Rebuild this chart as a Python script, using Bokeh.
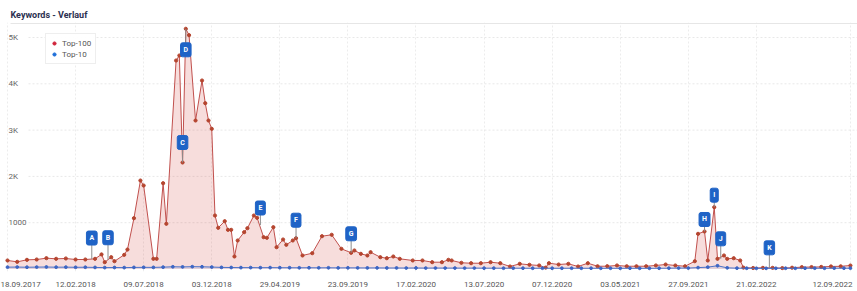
import pandas as pd
from bokeh.plotting import figure
from bokeh.models import (Range1d, FixedTicker, DatetimeTickFormatter, Label,
                          Legend, LegendItem)
from bokeh.embed import file_html
from bokeh.resources import INLINE

# ---------------- data ----------------
START = pd.Timestamp("2017-09-18")

# Top-100 keywords (weeks since 18.09.2017, value)
red_weeks = [0, 3, 6, 9, 12, 15, 18, 21, 24, 27, 29, 30, 32, 33, 36, 37, 39, 41, 42, 45,
             46, 48, 49, 52, 53, 54, 55, 56, 58, 60, 61, 62, 63, 64, 65, 67, 68, 69, 70, 71,
             73, 74, 76, 77, 79, 80, 82, 83, 85, 86, 88, 89, 91, 94, 97, 100, 103, 106, 107, 109,
             111, 112, 115, 117, 119, 121, 125, 128, 131, 134, 136, 137, 140, 143, 146, 149, 152, 155, 158, 161,
             164, 166, 167, 170, 173, 176, 179, 182, 185, 188, 191, 194, 197, 200, 203, 206, 209, 212, 213, 215,
             216, 218, 219, 221, 222, 224, 226, 227, 230, 233, 236, 239, 242, 245, 248, 251, 254, 257, 260]
red_values = [184, 155, 198, 205, 234, 220, 227, 205, 205, 220, 315, 147, 255, 168, 306, 420, 1097, 1911, 1803, 220,
              220, 1853, 976, 4503, 4611, 2300, 5188, 5050, 3207, 4071, 3581, 3207, 3028, 1155, 890, 1032, 846, 846, 270, 616,
              795, 881, 1155, 1105, 687, 674, 903, 471, 637, 523, 616, 665, 292, 341, 708, 739, 436, 350, 400, 328,
              292, 363, 255, 233, 270, 220, 184, 184, 147, 147, 198, 184, 134, 125, 125, 147, 125, 54, 112, 91,
              76, 30, 125, 97, 112, 54, 125, 60, 60, 76, 60, 60, 60, 76, 97, 76, 60, 168, 760, 810,
              184, 1335, 220, 292, 220, 233, 184, 30, 22, 25, 25, 20, 28, 40, 42, 45, 55, 58, 75]

# Top-10 keywords (every third week, last point 12.09.2022)
blue_weeks = list(range(0, 259, 3)) + [260]
blue_values = [40, 42, 38, 41, 43, 39, 40, 37, 38, 34,
               30, 32, 30, 34, 36, 35, 40, 48, 45, 50,
               48, 42, 35, 32, 30, 30, 28, 30, 28, 27,
               26, 27, 25, 26, 24, 25, 24, 23, 24, 22,
               22, 21, 22, 20, 21, 20, 20, 19, 20, 18,
               18, 17, 18, 17, 16, 17, 16, 16, 17, 16,
               16, 15, 16, 15, 16, 15, 15, 16, 18, 20,
               20, 30, 40, 70, 25,
               18, 16, 15, 14, 15, 16, 15, 16, 17, 16, 18, 17, 18]

tick_dates = ["2018-02-12", "2018-07-09", "2018-12-03", "2019-04-29", "2019-09-23",
              "2020-02-17", "2020-07-13", "2020-12-07", "2021-05-03", "2021-09-27", "2022-02-21"]
first_date = "2017-09-18"
last_date = "2022-09-12"
first_label = "18.09.2017"
last_label = "12.09.2022"

y_ticks = [1000, 2000, 3000, 4000, 5000]
y_tick_labels = ["1000", "2K", "3K", "4K", "5K"]

flag_letters = ["A", "B", "C", "D", "E", "F", "G", "H", "I", "J", "K"]
flag_weeks = [26, 31, 54, 55, 78, 89, 106, 215, 218, 220, 235]
flag_point_values = [215, 200, 2300, 5188, 950, 665, 350, 810, 1335, 220, 25]

# ---------------- layout / style ----------------
W, H = 857, 291
PX0 = 7.0        # screen x of first week
PXW = 3.242      # px per week
Y0 = 268.5       # screen y of value 0
PXK = 46.3       # px per 1000
FRAME_TOP, FRAME_BOTTOM = 22, 271
flag_offsets_px = [21, 22, 20, -21, 17, 18, 19, 12, 12, 20, 20]
FIRST_LABEL_PX = 0.5     # edge labels are shifted like Highcharts does
LAST_LABEL_PX = 832

def wk(w):
    return START + pd.Timedelta(days=7 * w)

def px_x(px):
    return wk((px - PX0) / PXW)

def px_y_delta(px):
    return px * 1000.0 / PXK

def ms(ts):
    return int(round(ts.value / 1e6))

x_range = Range1d(px_x(0), px_x(W))
y_range = Range1d(-(FRAME_BOTTOM - Y0) * 1000 / PXK, (Y0 - FRAME_TOP) * 1000 / PXK)

p = figure(width=W, height=H, x_axis_type="datetime", y_axis_location=None,
           x_range=x_range, y_range=y_range, toolbar_location=None,
           output_backend="svg", min_border_left=0, min_border_right=0,
           min_border_top=FRAME_TOP, min_border_bottom=H - FRAME_BOTTOM)
p.outline_line_color = None
p.background_fill_color = "white"
p.border_fill_color = "white"

FONT = "Roboto"
p.title.text = "Keywords - Verlauf"
p.title.text_font = FONT
p.title.text_font_size = "9px"
p.title.text_font_style = "bold"
p.title.text_color = "#2b3050"
p.title.align = "left"
p.title.offset = 10
p.title.standoff = 5

# grid
all_ticks = [pd.Timestamp(first_date)] + [pd.Timestamp(d) for d in tick_dates] + [pd.Timestamp(last_date)]
p.xgrid.ticker = FixedTicker(ticks=[ms(t) for t in all_ticks])
p.xgrid.grid_line_color = "#ececec"
p.xgrid.grid_line_dash = "2 2"
p.ygrid.visible = False

hx0 = [px_x(28)] * len(y_ticks)
hx1 = [px_x(W)] * len(y_ticks)
p.segment(x0=hx0, y0=y_ticks, x1=hx1, y1=y_ticks, line_color="#e8e8e8",
          line_dash="2 2", line_width=1)

# separator under title
sep_y = y_range.end - px_y_delta(1)
p.segment(x0=[px_x(10)], y0=[sep_y], x1=[px_x(W)], y1=[sep_y],
          line_color="#e6e6e6", line_width=1)

# x axis
first_tick = ms(px_x(FIRST_LABEL_PX))
last_tick = ms(px_x(LAST_LABEL_PX))
ax = p.xaxis[0]
ax.ticker = FixedTicker(ticks=[first_tick] + [ms(pd.Timestamp(d)) for d in tick_dates] + [last_tick])
fmt = "%d.%m.%Y"
ax.formatter = DatetimeTickFormatter(microseconds=fmt, milliseconds=fmt, seconds=fmt,
                                     minsec=fmt, minutes=fmt, hourmin=fmt, hours=fmt,
                                     days=fmt, months=fmt, years=fmt)
ax.major_label_overrides = {first_tick: first_label, last_tick: last_label}
ax.axis_line_color = None
ax.major_tick_line_color = None
ax.minor_tick_line_color = None
ax.major_label_standoff = 4
ax.major_label_text_font = FONT
ax.major_label_text_font_size = "8px"
ax.major_label_text_color = "#555555"

# y labels (inside the plot, Highcharts style)
for v, t in zip(y_ticks, y_tick_labels):
    p.add_layout(Label(x=ms(px_x(8)), y=v, text=t, text_align="left",
                       text_baseline="middle", text_font=FONT, text_font_size="8px",
                       text_color="#666666"))

# series
red_x = [wk(w) for w in red_weeks]
blue_x = [wk(w) for w in blue_weeks]
RED = "#c0504d"
BLUE = "#4a72c8"
p.varea(x=red_x, y1=[0] * len(red_x), y2=red_values, fill_color="#d9534f", fill_alpha=0.2)
p.line(red_x, red_values, line_color=RED, line_width=1)
p.scatter(red_x, red_values, size=3.2, color="#b5452f")
p.varea(x=blue_x, y1=[0] * len(blue_x), y2=blue_values, fill_color=BLUE, fill_alpha=0.12)
p.line(blue_x, blue_values, line_color=BLUE, line_width=1)
p.scatter(blue_x, blue_values, size=2.8, color="#3d66c4")

# flags
fx = [wk(w) for w in flag_weeks]
fy = [v + px_y_delta(o) for v, o in zip(flag_point_values, flag_offsets_px)]
p.segment(x0=fx, y0=flag_point_values, x1=fx, y1=fy, line_color="#8c8c8c", line_width=1)
for letter, x, y in zip(flag_letters, fx, fy):
    p.add_layout(Label(x=ms(x), y=y, text=letter, text_align="center",
                       text_baseline="middle", text_font=FONT, text_font_size="7px",
                       text_font_style="bold", text_color="white",
                       background_fill_color="#1f63c6", border_line_color="#1f63c6",
                       padding=3, border_radius=2))

# legend (renderers carry one point far outside the visible range)
far_x = [wk(-400)]
far_y = [-1e6]
lr = p.scatter(far_x, far_y, size=7, color="#d0243a")
lb = p.scatter(far_x, far_y, size=7, color="#1e6fd9")
legend = Legend(items=[LegendItem(label="Top-100", renderers=[lr]),
                       LegendItem(label="Top-10", renderers=[lb])],
                location=(45, FRAME_BOTTOM - 64), orientation="vertical",
                background_fill_color="white", border_line_color="#dddddd",
                label_text_font=FONT, label_text_font_size="8px",
                label_text_color="#555555", glyph_width=8, glyph_height=10,
                label_height=10, padding=4, spacing=1, label_standoff=4, margin=0)
p.add_layout(legend)

open("out.html", "w").write(file_html(p, INLINE))
